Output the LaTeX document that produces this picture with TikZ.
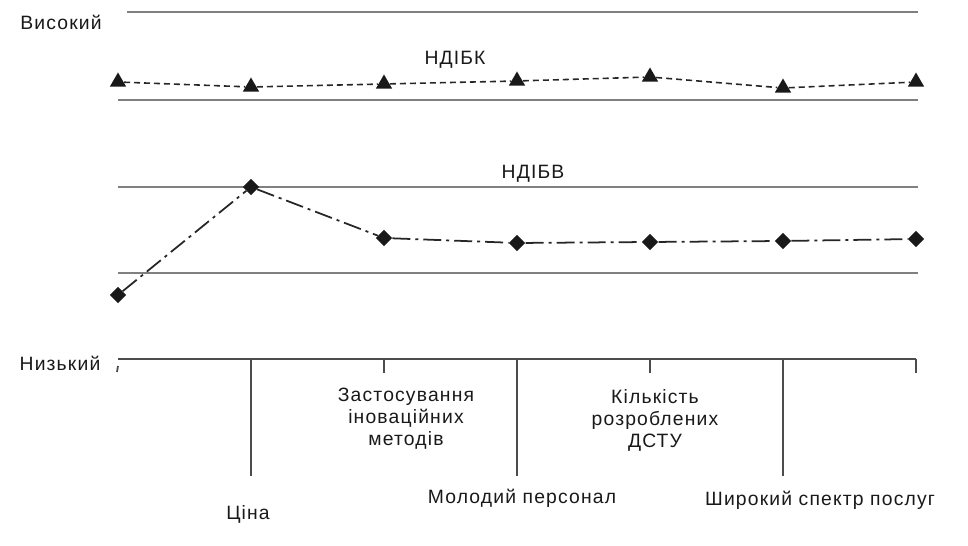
\documentclass[tikz,border=0pt]{standalone}
\usepackage{fontspec}
\setmainfont{Liberation Sans}[LetterSpace=6]
\usetikzlibrary{shapes.geometric}
\begin{document}
\begin{tikzpicture}[
    x=0.02cm, y=-0.02cm,
    level/.style={draw=black!50, line width=1.2pt},
    axisline/.style={draw=black!70, line width=1pt},
    kmark/.style={regular polygon, regular polygon sides=3, fill=black!90, inner sep=0pt, minimum size=0.38cm},
    vmark/.style={diamond, fill=black!90, inner sep=0pt, minimum size=0.33cm},
    kline/.style={draw=black!85, line width=0.9pt, dash pattern=on 0.12cm off 0.08cm},
    vline/.style={draw=black!85, line width=1pt, dash pattern=on 0.36cm off 0.1cm on 0.06cm off 0.1cm},
    lbl/.style={font=\fontsize{11}{12.5}\selectfont, text=black!90, align=center, inner sep=0pt}
]
\useasboundingbox (0,0) rectangle (968,546);

% levels
\draw[level] (127,12) -- (918,12);
\draw[level] (118,100) -- (918,100);
\draw[level] (118,187) -- (918,187);
\draw[level] (118,273) -- (918,273);

% axis with ticks
\draw[axisline] (118,359) -- (916,359);
\foreach \x in {251,517,783} \draw[axisline] (\x,359) -- (\x,476);
\foreach \x in {384,650,916} \draw[axisline] (\x,359) -- (\x,373);
\draw[axisline] (118,366) -- (117,372);

% NDIBK
\foreach \x/\y [count=\i] in {118/82, 251/87, 384/84, 517/81, 650/77, 783/88, 916/82}
    \node[kmark] (k\i) at (\x,\y) {};
\foreach \i [evaluate=\i as \j using int(\i+1)] in {1,...,6}
    \draw[kline] (k\i) -- (k\j);

% NDIBV
\foreach \x/\y [count=\i] in {118/295, 251/187, 384/238, 517/243, 650/242, 783/241, 916/239}
    \node[vmark] (v\i) at (\x,\y) {};
\foreach \i [evaluate=\i as \j using int(\i+1)] in {1,...,6}
    \draw[vline] (v\i) -- (v\j);

% labels
\node[lbl] (high) at (61,22) {Високий};
\node[lbl] (low) at (60,363) {Низький};
\node[lbl] (ndibk) at (455,60) {НДІБК};
\node[lbl] (ndibv) at (533,174) {НДІБВ};
\node[lbl] (price) at (248,514) {Ціна};
\node[lbl] (innov) at (406,419) {Застосування\\іноваційних\\методів};
\node[lbl] (staff) at (522,498) {Молодий персонал};
\node[lbl] (dstu) at (655,420) {Кількість\\розроблених\\ДСТУ};
\node[lbl] (services) at (820,500) {Широкий спектр послуг};
\end{tikzpicture}
\end{document}
